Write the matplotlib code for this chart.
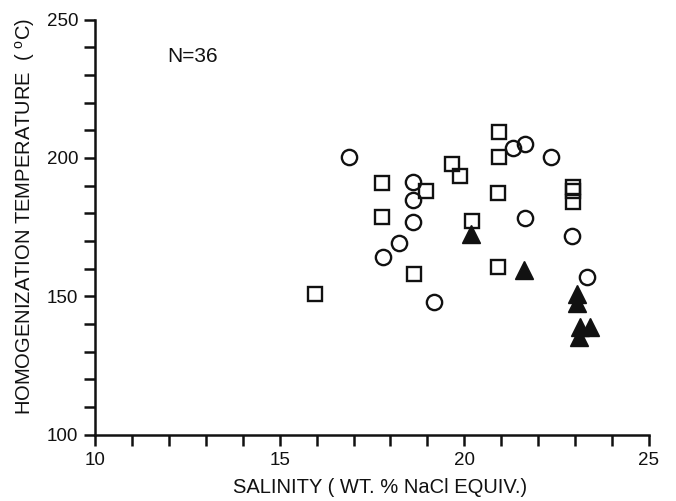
import matplotlib
matplotlib.use("Agg")
import matplotlib.pyplot as plt
from matplotlib.ticker import MultipleLocator

plt.rcParams['font.family'] = ['Liberation Sans', 'DejaVu Sans']

circle_x = [16.89, 18.62, 18.62, 18.62, 18.22, 17.80, 19.17, 21.31, 21.65, 22.34, 21.64, 22.91, 23.33]
circle_y = [200.5, 191.2, 184.9, 176.8, 169.2, 164.3, 147.9, 203.6, 205.0, 200.2, 178.3, 171.8, 157.1]

square_x = [17.78, 18.95, 19.67, 19.89, 17.78, 18.63, 20.20, 15.97, 20.93, 20.93, 20.91, 20.92, 22.95, 22.95, 22.95]
square_y = [191.0, 188.0, 197.8, 193.4, 178.6, 158.2, 177.3, 150.9, 209.3, 200.4, 187.2, 160.7, 189.4, 188.0, 184.0]

tri_x = [20.19, 21.62, 23.05, 23.05, 23.14, 23.41, 23.11]
tri_y = [172.7, 159.5, 151.0, 147.8, 139.1, 138.8, 135.5]

x_ticklabels = [10, 15, 20, 25]
y_ticklabels = [100, 150, 200, 250]

fig = plt.figure(figsize=(6.76, 5.01), dpi=100)
ax = fig.add_axes([0.1405, 0.132, 0.8195, 0.829])

ms = 11
ax.plot(circle_x, circle_y, linestyle='none', marker='o', markersize=ms,
        markerfacecolor='none', markeredgecolor='#111111', markeredgewidth=1.7, clip_on=False)
ax.plot(square_x, square_y, linestyle='none', marker='s', markersize=ms - 0.5,
        markerfacecolor='none', markeredgecolor='#111111', markeredgewidth=1.7, clip_on=False)
ax.plot(tri_x, tri_y, linestyle='none', marker='^', markersize=ms + 2,
        markerfacecolor='#111111', markeredgecolor='#111111', markeredgewidth=1.0, clip_on=False)

ax.set_xlim(10, 25)
ax.set_ylim(100, 250)
ax.set_xticks(x_ticklabels)
ax.set_yticks(y_ticklabels)
ax.xaxis.set_minor_locator(MultipleLocator(1))
ax.yaxis.set_minor_locator(MultipleLocator(10))

for s in ['top', 'right']:
    ax.spines[s].set_visible(False)
for s in ['left', 'bottom']:
    ax.spines[s].set_linewidth(1.8)
    ax.spines[s].set_color('#111111')

ax.tick_params(which='both', direction='out', length=8, width=1.8, color='#111111')
ax.tick_params(axis='both', which='major', labelsize=13.5, pad=4, labelcolor='#111111')

ax.set_xlabel('SALINITY ( WT. % NaCl EQUIV.)', fontsize=14.5, color='#111111')
ax.set_ylabel('HOMOGENIZATION TEMPERATURE  ( $^{\\mathregular{o}}$C)', fontsize=14.5,
              color='#111111')
ax.xaxis.set_label_coords(0.515, -0.105)
ax.yaxis.set_label_coords(-0.104, 0.525)

ax.text(11.95, 236.5, 'N=36', fontsize=15, color='#111111', ha='left', va='center')

fig.savefig('out.png', dpi=100)
